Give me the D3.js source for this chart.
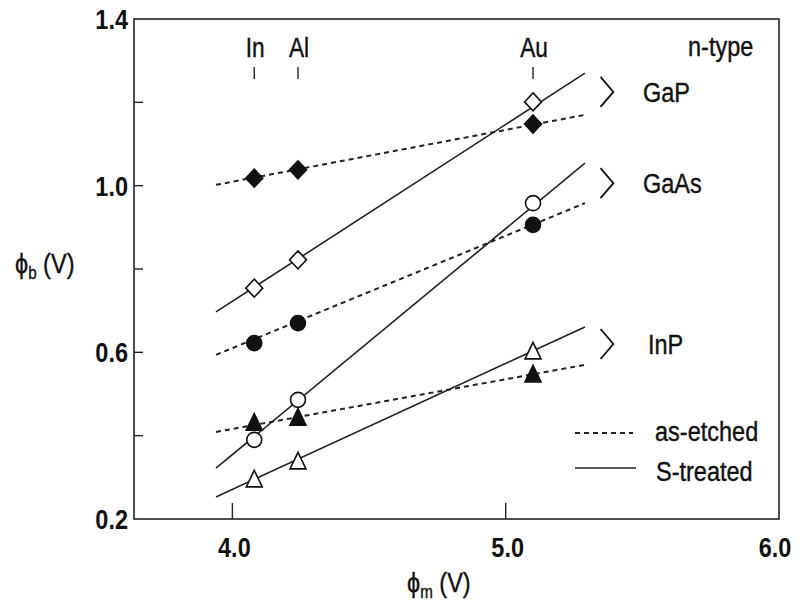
<!DOCTYPE html>
<html>
<head>
<meta charset="utf-8">
<script src="https://cdn.jsdelivr.net/npm/d3@7"></script>
<style>
  body { margin: 0; background: #fff; }
  svg text { font-family: 'Liberation Sans', Arial, sans-serif; fill: #111; }
  svg text.w { stroke: #111; stroke-width: 0.4px; }
</style>
</head>
<body>
<div id="chart"></div>
<script>
// metal work functions (x) and their labels
var metals = ['In', 'Al', 'Au'];
var metal_phi = [4.08, 4.24, 5.10];

// barrier heights, one value per metal
var gap_etched = [1.018, 1.038, 1.148];
var gap_treated = [0.754, 0.822, 1.201];
var gaas_etched = [0.622, 0.670, 0.906];
var gaas_treated = [0.390, 0.486, 0.958];
var inp_etched = [0.430, 0.442, 0.546];
var inp_treated = [0.294, 0.337, 0.601];

// fitted lines: x range and end values
var fit_x = [3.94, 5.29];
var gap_etched_fit = [1.002, 1.170];
var gap_treated_fit = [0.697, 1.270];
var gaas_etched_fit = [0.594, 0.958];
var gaas_treated_fit = [0.322, 1.054];
var inp_etched_fit = [0.409, 0.570];
var inp_treated_fit = [0.253, 0.661];

var semis = ['GaP', 'GaAs', 'InP'];
var bracket_y = [1.225, 1.006, 0.620];

var x_ticks = [4.0, 5.0, 6.0];
var y_ticks = [0.2, 0.4, 0.6, 0.8, 1.0, 1.2, 1.4];
var y_labels = [0.2, 0.6, 1.0, 1.4];

var width = 802, height = 609;
var squeeze = 0.84;  // the printed font is a narrow helvetica
var x = d3.scaleLinear().domain([3.64, 6.0]).range([134, 779]);
var y = d3.scaleLinear().domain([0.2, 1.4]).range([519, 19]);

var svg = d3.select('#chart').append('svg')
    .attr('width', width)
    .attr('height', height);

svg.append('rect').attr('width', width).attr('height', height).attr('fill', '#fff');

// place a text squeezed horizontally around its anchor point
function narrow(sel, fx, fy){
  return sel.attr('transform', function(d, i){
    return 'translate(' + fx(d, i) + ',' + fy(d, i) + ') scale(' + squeeze + ',1)';
  });
}
function cst(v){ return function(){ return v; }; }

// frame
svg.append('rect')
    .attr('x', x(3.64)).attr('y', y(1.4))
    .attr('width', x(6.0) - x(3.64)).attr('height', y(0.2) - y(1.4))
    .attr('fill', 'none').attr('stroke', '#222').attr('stroke-width', 1.6);

// y ticks (inside)
svg.selectAll('.ytick').data(y_ticks.slice(1, -1)).enter().append('line')
    .attr('x1', x(3.64)).attr('x2', x(3.64) + 9)
    .attr('y1', function(d){ return y(d); }).attr('y2', function(d){ return y(d); })
    .attr('stroke', '#222').attr('stroke-width', 1.4);

narrow(svg.selectAll('.ylab').data(y_labels).enter().append('text'),
    cst(128), function(d){ return y(d) + 10; })
    .attr('text-anchor', 'end')
    .style('font-size', '28px').style('font-weight', 'bold')
    .text(function(d){ return d.toFixed(1); });

// x ticks (inside, up from bottom)
svg.selectAll('.xtick').data(x_ticks.slice(0, -1)).enter().append('line')
    .attr('x1', function(d){ return x(d); }).attr('x2', function(d){ return x(d); })
    .attr('y1', y(0.2)).attr('y2', y(0.2) - 16)
    .attr('stroke', '#222').attr('stroke-width', 1.4);

narrow(svg.selectAll('.xlab').data(x_ticks).enter().append('text'),
    function(d){ return x(d) + (d == 6.0 ? -4 : 2); }, cst(557))
    .attr('text-anchor', 'middle')
    .style('font-size', '28px').style('font-weight', 'bold')
    .text(function(d){ return d.toFixed(1); });

// axis titles
var yt = narrow(svg.append('text'), cst(15), cst(273)).attr('class', 'w').style('font-size', '28px');
yt.append('tspan').text('\u03d5');
yt.append('tspan').attr('dy', 6).style('font-size', '18px').text('b');
yt.append('tspan').attr('dy', -6).text(' (V)');

var xt = narrow(svg.append('text'), cst(407), cst(592)).attr('class', 'w').style('font-size', '28px');
xt.append('tspan').text('\u03d5');
xt.append('tspan').attr('dy', 6).style('font-size', '18px').text('m');
xt.append('tspan').attr('dy', -6).text(' (V)');

// metal labels along the top
narrow(svg.selectAll('.metal').data(metals).enter().append('text'),
    function(d, i){ return x(metal_phi[i]) + 1; }, cst(57))
    .attr('class', 'w')
    .attr('text-anchor', 'middle')
    .style('font-size', '27px')
    .text(function(d){ return d; });

svg.selectAll('.mtick').data(metal_phi).enter().append('line')
    .attr('x1', function(d){ return x(d); }).attr('x2', function(d){ return x(d); })
    .attr('y1', 67).attr('y2', 79)
    .attr('stroke', '#222').attr('stroke-width', 1.4);

narrow(svg.append('text'), cst(688), cst(56)).attr('class', 'w').style('font-size', '28px').text('n-type');

// fit lines
var fits = [
  {v: gap_etched_fit, dash: true}, {v: gap_treated_fit, dash: false},
  {v: gaas_etched_fit, dash: true}, {v: gaas_treated_fit, dash: false},
  {v: inp_etched_fit, dash: true}, {v: inp_treated_fit, dash: false}
];
svg.selectAll('.fit').data(fits).enter().append('line')
    .attr('x1', x(fit_x[0])).attr('x2', x(fit_x[1]))
    .attr('y1', function(d){ return y(d.v[0]); }).attr('y2', function(d){ return y(d.v[1]); })
    .attr('stroke', '#222')
    .attr('stroke-width', function(d){ return d.dash ? 2 : 1.6; })
    .attr('stroke-dasharray', function(d){ return d.dash ? '5,4' : null; });

// marker shapes
function diamond(){ return 'M0,-9L8.5,0L0,9L-8.5,0Z'; }
function circle(){ return 'M7.5,0A7.5,7.5 0 1,1 -7.5,0A7.5,7.5 0 1,1 7.5,0Z'; }
function triangle(){ return 'M0,-9.5L8,7L-8,7Z'; }

var series = [
  {v: gap_etched, shape: diamond, filled: true},
  {v: gap_treated, shape: diamond, filled: false},
  {v: gaas_etched, shape: circle, filled: true},
  {v: gaas_treated, shape: circle, filled: false},
  {v: inp_etched, shape: triangle, filled: true},
  {v: inp_treated, shape: triangle, filled: false}
];

series.forEach(function(s){
  svg.selectAll(null).data(s.v).enter().append('path')
      .attr('d', s.shape)
      .attr('transform', function(d, i){ return 'translate(' + x(metal_phi[i]) + ',' + y(d) + ')'; })
      .attr('fill', s.filled ? '#111' : '#fff')
      .attr('stroke', '#111').attr('stroke-width', 1.6);
});

// brackets and semiconductor labels
svg.selectAll('.brk').data(bracket_y).enter().append('path')
    .attr('d', function(d){
      var cy = y(d);
      return 'M' + x(5.347) + ',' + (cy - 15) + 'L' + x(5.394) + ',' + cy + 'L' + x(5.347) + ',' + (cy + 15);
    })
    .attr('fill', 'none').attr('stroke', '#111').attr('stroke-width', 1.8);

narrow(svg.selectAll('.semi').data(semis).enter().append('text'),
    function(d, i){ return i == 2 ? 648 : 643; },
    function(d, i){ return y(bracket_y[i]) + 10; })
    .attr('class', 'w')
    .style('font-size', '28px')
    .text(function(d){ return d; });

// legend
svg.append('line').attr('x1', 575).attr('x2', 633).attr('y1', 433).attr('y2', 433)
    .attr('stroke', '#222').attr('stroke-width', 2).attr('stroke-dasharray', '5,4');
narrow(svg.append('text'), cst(655), cst(441)).attr('class', 'w').style('font-size', '28px').text('as-etched');
svg.append('line').attr('x1', 575).attr('x2', 636).attr('y1', 468).attr('y2', 468)
    .attr('stroke', '#222').attr('stroke-width', 1.6);
narrow(svg.append('text'), cst(656), cst(481)).attr('class', 'w').style('font-size', '28px').text('S-treated');
</script>
</body>
</html>
